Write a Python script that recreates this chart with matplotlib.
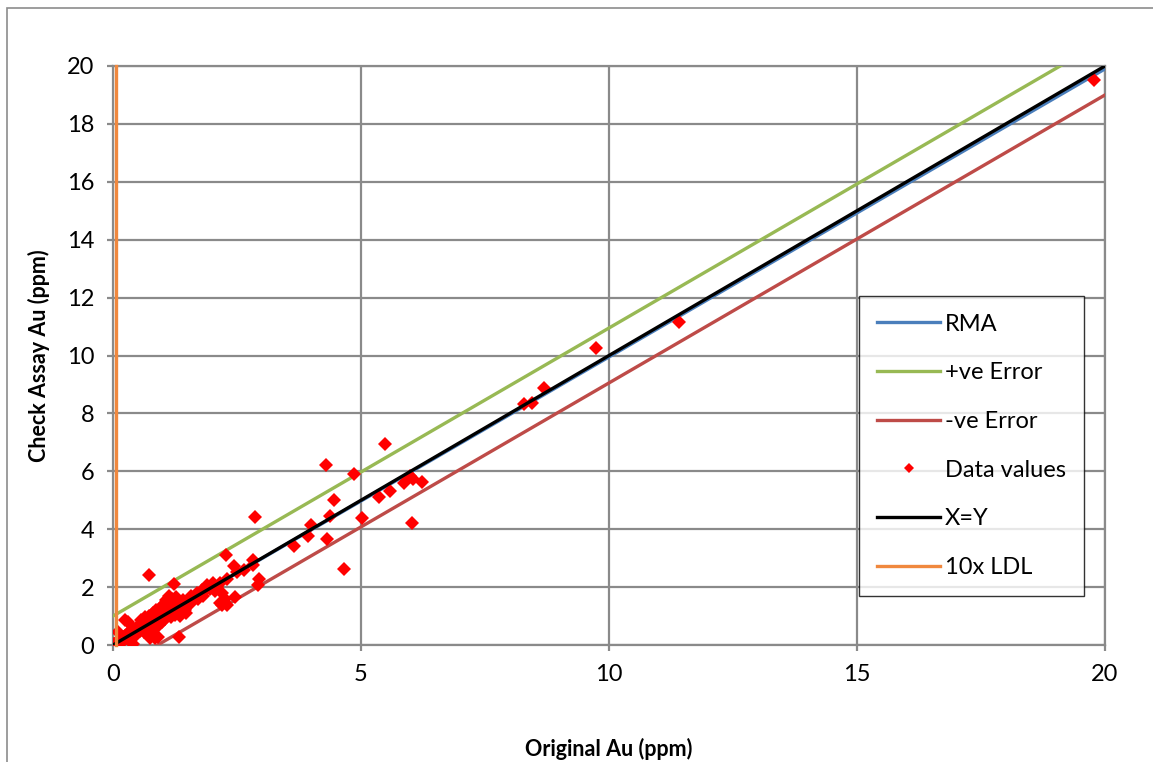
import matplotlib
matplotlib.use("Agg")
import matplotlib.pyplot as plt
from matplotlib.patches import Rectangle
from matplotlib.lines import Line2D

plt.rcParams['font.family'] = ['Lato', 'DejaVu Sans']

# ---- data ----
orig_au = [
    0.02, 0.03, 0.05, 0.06, 0.08, 0.10, 0.12, 0.14, 0.15, 0.17, 0.18, 0.20, 0.22, 0.24, 0.25,
    0.27, 0.28, 0.30, 0.31, 0.33, 0.35, 0.36, 0.38, 0.40, 0.41, 0.43, 0.45, 0.47, 0.48, 0.50,
    0.24, 0.30, 0.10, 0.40,
    0.52, 0.55, 0.57, 0.60, 0.62, 0.63, 0.65, 0.67, 0.70, 0.72, 0.73, 0.75, 0.77, 0.78, 0.80,
    0.82, 0.84, 0.85, 0.87, 0.88, 0.90, 0.92, 0.93, 0.95, 0.97, 0.98, 1.00, 0.85, 0.75, 0.90,
    1.02, 1.04, 1.05, 1.07, 1.08, 1.10, 1.12, 1.13, 1.15, 1.17, 1.18, 1.20, 1.22, 1.23, 1.25,
    1.27, 1.28, 1.30, 1.32, 1.33, 1.35, 1.37, 1.40, 1.42, 1.45, 1.48,
    1.55, 1.58, 1.60, 1.65, 1.70, 1.72, 1.75, 1.80, 1.82, 1.85, 1.90, 1.95, 2.02, 2.05, 2.10,
    2.16, 2.16, 2.20, 2.20, 2.25, 2.30, 2.30,
    2.28, 2.44, 2.46, 2.50, 2.64, 2.82, 2.82, 2.92, 2.94, 2.86, 0.73,
    3.65, 3.93, 3.99, 4.29, 4.31, 4.38, 4.46, 4.66, 4.86, 5.02, 5.36, 5.48, 5.58, 5.87, 5.99,
    6.05, 6.03, 6.23,
    8.29, 8.45, 8.69, 9.74, 11.41, 19.78,
]
check_au = [
    0.03, 0.05, 0.02, 0.08, 0.05, 0.12, 0.08, 0.18, 0.10, 0.22, 0.15, 0.28, 0.18, 0.30, 0.20,
    0.36, 0.25, 0.22, 0.40, 0.30, 0.45, 0.28, 0.50, 0.35, 0.60, 0.42, 0.30, 0.55, 0.40, 0.48,
    0.86, 0.80, 0.45, 0.05,
    0.70, 0.50, 0.85, 0.60, 0.45, 0.75, 0.95, 0.62, 0.80, 0.55, 1.00, 0.70, 0.88, 0.40, 1.10,
    0.75, 0.95, 0.60, 1.20, 0.85, 1.00, 0.70, 1.15, 0.90, 1.30, 0.80, 1.05, 0.24, 0.24, 0.28,
    1.40, 0.90, 1.20, 1.55, 1.00, 1.30, 1.70, 1.10, 1.45, 0.95, 1.60, 1.25, 1.50, 2.10, 1.05,
    1.35, 1.65, 1.20, 1.50, 0.28, 1.00, 1.40, 1.30, 1.55, 1.20, 1.10,
    1.40, 1.70, 1.55, 1.65, 1.80, 1.60, 1.75, 1.90, 1.70, 1.90, 2.07, 1.95, 2.14, 1.85, 2.00,
    2.14, 1.45, 1.80, 1.38, 1.60, 2.28, 1.38,
    3.11, 2.73, 1.66, 2.52, 2.59, 2.94, 2.76, 2.07, 2.28, 4.42, 2.42,
    3.42, 3.77, 4.14, 6.22, 3.66, 4.46, 5.01, 2.63, 5.91, 4.39, 5.11, 6.94, 5.32, 5.60, 5.84,
    5.73, 4.21, 5.63,
    8.32, 8.36, 8.88, 10.26, 11.16, 19.52,
]

rma_x = [0.0, 20.0]
rma_y = [0.0, 19.9]
pos_err_x = [0.0, 20.0]
pos_err_y = [1.0, 20.9]
neg_err_x = [0.9, 20.0]
neg_err_y = [0.0, 19.0]
xy_x = [0.0, 20.0]
xy_y = [0.0, 20.0]
ldl_x = [0.06, 0.06]
ldl_y = [0.0, 20.0]

x_ticks = [0, 5, 10, 15, 20]
y_ticks = [0, 2, 4, 6, 8, 10, 12, 14, 16, 18, 20]

# ---- figure ----
W, H = 1153, 762
fig = plt.figure(figsize=(W / 100, H / 100), dpi=100)
fig.patches.append(Rectangle((7 / W, -0.05), 1.2, (H - 8) / H + 0.05, transform=fig.transFigure,
                             fill=False, edgecolor='#8c8c8c', linewidth=1.2))

ax = fig.add_axes([113 / W, (H - 645) / H, 992 / W, 579 / H])
grid_c = '#8a8a8a'
ax.set_xlim(0, 20)
ax.set_ylim(0, 20)
ax.set_xticks(x_ticks)
ax.set_yticks(y_ticks)
ax.grid(True, color=grid_c, linewidth=1.6, zorder=0)
ax.set_axisbelow(True)
for s in ax.spines.values():
    s.set_color(grid_c)
    s.set_linewidth(1.6)
ax.tick_params(axis='both', direction='out', length=4.5, width=1.6, color=grid_c,
               labelsize=17, pad=9)

lw = 2.4
ax.plot(rma_x, rma_y, color='#4a7ebb', linewidth=lw, label='RMA', zorder=3)
ax.plot(pos_err_x, pos_err_y, color='#98b954', linewidth=lw, label='+ve Error', zorder=3)
ax.plot(neg_err_x, neg_err_y, color='#be4b48', linewidth=lw, label='-ve Error', zorder=3)
ax.plot(orig_au, check_au, linestyle='none', marker='D', markersize=6.7, color='#ff0000',
        markeredgewidth=0, label='Data values', zorder=4)
ax.plot(xy_x, xy_y, color='black', linewidth=lw, label='X=Y', zorder=5)
ax.plot(ldl_x, ldl_y, color='#f0883e', linewidth=lw, label='10x LDL', zorder=6, clip_on=False)

handles = [
    Line2D([], [], color='#4a7ebb', linewidth=lw),
    Line2D([], [], color='#98b954', linewidth=lw),
    Line2D([], [], color='#be4b48', linewidth=lw),
    Line2D([], [], linestyle='none', marker='D', markersize=5, color='#ff0000', markeredgewidth=0),
    Line2D([], [], color='black', linewidth=lw),
    Line2D([], [], color='#f0883e', linewidth=lw),
]
labels = ['RMA', '+ve Error', '-ve Error', 'Data values', 'X=Y', '10x LDL']
leg = ax.legend(handles, labels, loc='upper left', bbox_to_anchor=((859 - 113) / 992, (645 - 296) / 579),
                frameon=True, fancybox=False, edgecolor='black', fontsize=17,
                handlelength=2.7, handletextpad=0.2, labelspacing=1.17, borderpad=0.75,
                borderaxespad=0)
leg.get_frame().set_linewidth(1.0)
leg.set_zorder(10)

ax.set_xlabel('Original Au (ppm)', fontsize=15.5, fontweight='bold', labelpad=38)
ax.set_ylabel('Check Assay Au (ppm)', fontsize=15.5, fontweight='bold', labelpad=12)

fig.savefig('out.png', dpi=100)
